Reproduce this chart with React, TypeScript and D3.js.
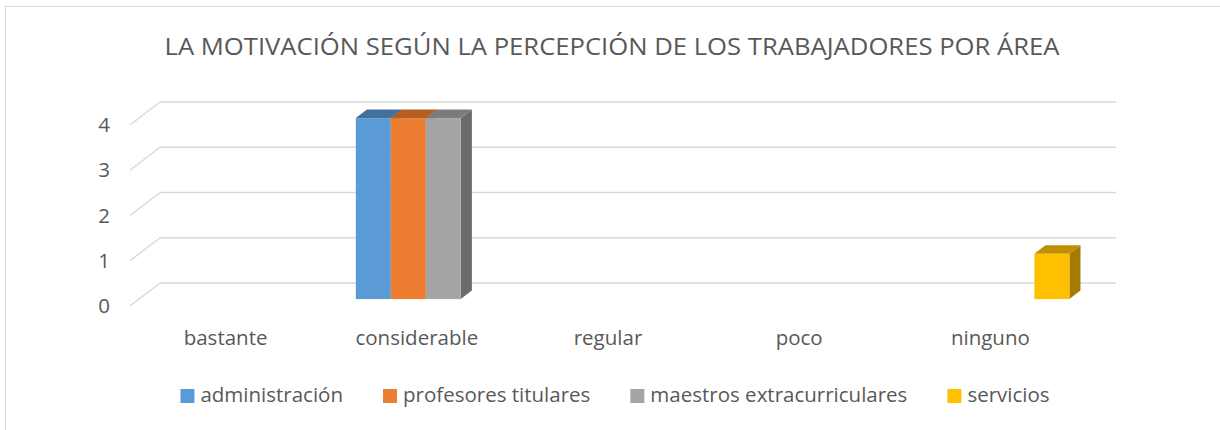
import React, { useMemo } from 'react';
import * as d3 from 'd3';

const categories = ['bastante', 'considerable', 'regular', 'poco', 'ninguno'];
const seriesNames = ['administración', 'profesores titulares', 'maestros extracurriculares', 'servicios'];
const administracion = [0, 4, 0, 0, 0];
const profesoresTitulares = [0, 4, 0, 0, 0];
const maestrosExtracurriculares = [0, 4, 0, 0, 0];
const servicios = [0, 0, 0, 0, 1];
const yTicks = [0, 1, 2, 3, 4];

const seriesValues = [administracion, profesoresTitulares, maestrosExtracurriculares, servicios];
// front, top, side
const seriesColors = [
  ['#5b9bd5', '#41719c', '#3f6d97'],
  ['#ed7d31', '#b75d22', '#ad5720'],
  ['#a5a5a5', '#7c7c7c', '#6b6b6b'],
  ['#ffc000', '#bf9000', '#a67c00'],
];

const FONT = '"Open Sans", "Noto Sans", sans-serif';
const TEXT = '#595959';
const LABEL_SIZE = 20.5;

const W = 1220;
const H = 430;

// back wall
const wallLeft = 160;
const wallRight = 1116;
// depth offset to the front edge of the floor
const depthX = -30;
const depthY = 23;
const barFront = 0.7;
const barBack = 0.33;

const App: React.FC = () => {
  const y = d3.scaleLinear().domain([0, 4]).range([283, 102]);

  const xFront = d3.scaleBand<string>()
    .domain(categories)
    .range([wallLeft + depthX, wallRight + depthX]);

  const xBars = d3.scaleBand<string>()
    .domain(categories)
    .range([wallLeft + depthX * barFront, wallRight + depthX * barFront])
    .paddingInner(0.268)
    .paddingOuter(0.134);

  const xSeries = d3.scaleBand<number>()
    .domain(d3.range(seriesNames.length))
    .range([0, xBars.bandwidth()]);

  const legend = useMemo(() => {
    const ctx = document.createElement('canvas').getContext('2d');
    if (ctx) ctx.font = `${LABEL_SIZE}px "Open Sans"`;
    const widths = seriesNames.map(s => (ctx ? ctx.measureText(s).width : s.length * 9));
    const sq = 14, gapSq = 6, gapItem = 40;
    const itemW = widths.map(w => sq + gapSq + w);
    const total = d3.sum(itemW) + gapItem * (seriesNames.length - 1);
    let x = 615 - total / 2;
    return seriesNames.map((name, i) => {
      const item = { name, x, color: seriesColors[i][0] };
      x += itemW[i] + gapItem;
      return item;
    });
  }, []);

  const bdx = depthX * (barBack - barFront);
  const bdy = depthY * (barBack - barFront);
  const fy = depthY * barFront;

  const bars: React.ReactNode[] = [];
  categories.forEach((cat, ci) => {
    seriesValues.forEach((vals, si) => {
      const v = vals[ci];
      if (!v) return;
      const x0 = (xBars(cat) ?? 0) + (xSeries(si) ?? 0);
      const x1 = x0 + xSeries.bandwidth();
      const yt = y(v) + fy;
      const yb = y(0) + fy;
      const [front, top, side] = seriesColors[si];
      bars.push(
        <g key={`${ci}-${si}`}>
          <polygon
            points={`${x1},${yt} ${x1 + bdx},${yt + bdy} ${x1 + bdx},${yb + bdy} ${x1},${yb}`}
            fill={side}
          />
          <polygon
            points={`${x0},${yt} ${x0 + bdx},${yt + bdy} ${x1 + bdx},${yt + bdy} ${x1},${yt}`}
            fill={top}
          />
          <rect x={x0} y={yt} width={x1 - x0} height={yb - yt} fill={front} />
        </g>
      );
    });
  });

  return (
    <svg
      width={W}
      height={H}
      style={{ position: 'absolute', left: 0, top: 0, background: '#fff' }}
    >
      <rect x={5.5} y={6.5} width={W} height={H} fill="#fff" stroke="#d9d9d9" />

      <text
        x={612}
        y={55}
        textAnchor="middle"
        fontFamily={FONT}
        fontSize={24.5}
        fill={TEXT}
        textLength={895}
        lengthAdjust="spacingAndGlyphs"
      >
        LA MOTIVACIÓN SEGÚN LA PERCEPCIÓN DE LOS TRABAJADORES POR ÁREA
      </text>

      {/* gridlines: back wall and left wall diagonal */}
      {yTicks.map(t => (
        <g key={t} stroke="#d9d9d9" strokeWidth={1.5} fill="none">
          <line x1={wallLeft} x2={wallRight} y1={y(t)} y2={y(t)} />
          <line x1={wallLeft + depthX} x2={wallLeft} y1={y(t) + depthY} y2={y(t)} />
        </g>
      ))}

      {yTicks.map(t => (
        <text
          key={t}
          x={wallLeft + depthX - 20}
          y={y(t) + depthY + 7}
          textAnchor="end"
          fontFamily={FONT}
          fontSize={LABEL_SIZE}
          fill={TEXT}
        >
          {t}
        </text>
      ))}

      {bars}

      {categories.map(cat => (
        <text
          key={cat}
          x={(xFront(cat) ?? 0) + xFront.bandwidth() / 2}
          y={345}
          textAnchor="middle"
          fontFamily={FONT}
          fontSize={LABEL_SIZE}
          fill={TEXT}
        >
          {cat}
        </text>
      ))}

      {legend.map(item => (
        <g key={item.name}>
          <rect x={item.x} y={389} width={14} height={14} fill={item.color} />
          <text x={item.x + 20} y={402} fontFamily={FONT} fontSize={LABEL_SIZE} fill={TEXT}>
            {item.name}
          </text>
        </g>
      ))}
    </svg>
  );
};

export default App;
